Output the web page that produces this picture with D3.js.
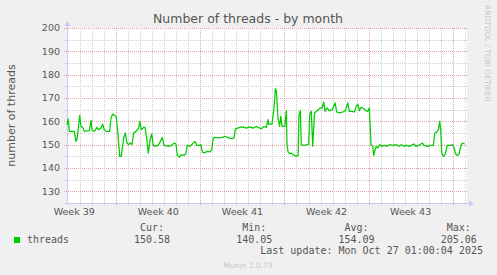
<!DOCTYPE html>
<html>
<head>
<meta charset="utf-8">
<script src="https://cdn.jsdelivr.net/npm/d3@7"></script>
<style>
    body { margin: 0; background: #f0f0f0; }
    svg { display: block; font-family: "DejaVu Sans", sans-serif; }
    .mono { font-family: "DejaVu Sans Mono", monospace; font-size: 10px; fill: #555; }
</style>
</head>
<body>
<div id="chart-container"></div>
<script>
// days since window start (2025-09-24 21:36 UTC)
const days = [
    0, 0.11, 0.19, 0.61, 0.75, 0.83, 1.06, 1.17, 1.31, 1.44, 1.86, 2.00, 2.08, 2.22, 2.36, 2.47, 2.64, 2.83, 2.97, 3.10,
    3.25, 3.55, 3.66, 3.80, 3.97, 4.10, 4.24, 4.39, 4.52, 4.72, 4.85, 4.99, 5.14, 5.27, 5.41, 5.55, 5.74, 5.97, 6.05, 6.18,
    6.38, 6.49, 6.63, 6.77, 6.91, 7.05, 7.18, 7.32, 7.60, 7.93, 8.07, 8.43, 8.71, 8.93, 9.07, 9.18, 9.35, 9.55, 9.74, 9.88,
    10.01, 10.24, 10.43, 10.65, 10.80, 10.99, 11.15, 11.26, 11.43, 11.63, 11.90, 12.04, 12.18, 12.32, 12.59, 12.93, 13.15, 13.43, 13.73, 13.90,
    14.01, 14.38, 14.65, 14.92, 15.21, 15.48, 15.76, 15.90, 16.17, 16.40, 16.59, 16.73, 16.79, 17.06, 17.23, 17.34, 17.42, 17.56, 17.70, 17.79,
    17.90, 18.12, 18.26, 18.31, 18.40, 18.54, 18.67, 18.81, 19.09, 19.23, 19.31, 19.42, 19.50, 19.73, 20.00, 20.12, 20.20, 20.33, 20.45, 20.60,
    20.92, 21.08, 21.23, 21.37, 21.48, 21.64, 21.83, 22.06, 22.31, 22.45, 22.67, 22.95, 23.17, 23.37, 23.50, 23.70, 23.92, 24.06, 24.20, 24.33,
    24.47, 24.69, 24.88, 25.03, 25.16, 25.24, 25.30, 25.45, 25.53, 25.72, 25.86, 26.05, 26.19, 26.41, 26.64, 26.86, 27.11, 27.38, 27.63, 27.83,
    28.05, 28.28, 28.47, 28.66, 28.88, 29.02, 29.30, 29.57, 29.72, 29.99, 30.27, 30.49, 30.61, 30.77, 30.91, 31.02, 31.11, 31.19, 31.32, 31.46,
    31.65, 31.94, 32.07, 32.21, 32.35, 32.49, 32.63, 32.77, 32.90, 33.10
];
const threads = [
    158.5, 161, 155.7, 155.7, 151.4, 152, 162.5, 157.8, 157.4, 155.7, 156, 160.4, 156.4, 155.7, 156.1, 157.4, 156.4, 157.1, 158.8, 156.4,
    155.7, 155.7, 161.4, 163.1, 162.5, 162.1, 154.3, 145, 145, 152.9, 155, 150.7, 150, 150.7, 150, 155, 155.7, 157.1, 160, 156.4,
    157.4, 157.4, 152.9, 146.4, 152, 154.6, 149.7, 149.3, 149.7, 153.1, 149.7, 149.3, 149.7, 150.7, 150.3, 145.4, 144.7, 145.7, 145.4, 146.1,
    149.7, 149.3, 150.3, 151.4, 149.7, 149.7, 150, 146.9, 146.4, 147.1, 146.9, 147.9, 152.9, 153.1, 152.9, 153.1, 153.6, 152.9, 152.6, 152.9,
    156.8, 157.4, 157.6, 157.1, 157.6, 157.1, 157.8, 157.4, 156.8, 157.8, 157.4, 160.7, 158.8, 158.8, 165.7, 174, 173.1, 161.4, 157.8, 162.1,
    157.8, 157.8, 164.6, 150, 146.9, 146.1, 146.4, 145.7, 145, 145.4, 162.9, 164.6, 150, 149.7, 150, 150.3, 162.9, 164.3, 149.3, 163.6,
    165, 165.7, 165.7, 168.3, 164.3, 165.7, 164.6, 165, 167.9, 164, 163.6, 164, 164.6, 167.9, 164.3, 164.3, 164, 166.4, 167.4, 164.6,
    166, 165.4, 164.6, 164.3, 165.7, 157.1, 150, 149.3, 145.4, 149.3, 148.6, 150, 149.3, 149.7, 149.3, 150, 149.7, 150, 149.3, 150,
    149.3, 149.7, 149.3, 149.7, 150.3, 149.3, 149.7, 150.7, 149.7, 149.3, 149.7, 149.7, 155, 155.4, 156.4, 160, 155.7, 146.4, 145, 145.7,
    149.7, 149.7, 150, 148.6, 146, 145.4, 146, 149.3, 150.7, 150.3
];

const weekStarts = ["2025-09-22", "2025-09-29", "2025-10-06", "2025-10-13", "2025-10-20"];
const weekLabels = ["Week 39", "Week 40", "Week 41", "Week 42", "Week 43"];
const yTicks = [130, 140, 150, 160, 170, 180, 190, 200];

const legendHeaders = ["Cur:", "Min:", "Avg:", "Max:"];
const legendValues = ["150.58", "140.05", "154.09", "205.06"];

const svgWidth = 497;
const svgHeight = 275;
const margin = { top: 28, left: 67 };
const plotW = 400, plotH = 175;

const startTime = Date.UTC(2025, 8, 24, 21, 36);
const endTime = startTime + 33.29 * 864e5;

const svg = d3.select("#chart-container")
    .append("svg")
    .attr("width", svgWidth)
    .attr("height", svgHeight);

const x = d3.scaleUtc()
    .domain([new Date(startTime), new Date(endTime)])
    .range([margin.left, margin.left + plotW]);

const y = d3.scaleLinear()
    .domain([125, 200])
    .range([margin.top + plotH, margin.top]);

// plot background
svg.append("rect")
    .attr("x", margin.left)
    .attr("y", margin.top)
    .attr("width", plotW)
    .attr("height", plotH)
    .attr("fill", "#fff");

// horizontal grid, minor every 5, major every 10
d3.range(130, 201, 5).forEach(v => {
    const major = v % 10 === 0;
    svg.append("line")
        .attr("x1", margin.left - 3).attr("x2", margin.left + plotW + 1)
        .attr("y1", Math.round(y(v)) + 0.5).attr("y2", Math.round(y(v)) + 0.5)
        .attr("stroke", major ? "#eba0a0" : "#cfcfcf")
        .attr("stroke-dasharray", "1,1");
});

// vertical grid, daily minor, weekly (monday) major
d3.utcDay.range(x.domain()[0], x.domain()[1]).forEach(d => {
    const major = d.getUTCDay() === 1;
    const px = Math.round(x(d)) + 0.5;
    if (px < margin.left + 2) return;
    svg.append("line")
        .attr("x1", px).attr("x2", px)
        .attr("y1", margin.top).attr("y2", margin.top + plotH + 3)
        .attr("stroke", major ? "#eba0a0" : "#cfcfcf")
        .attr("stroke-dasharray", "1,1");
});

// axes lines with arrows
const axisColor = "#c8c8f4";
svg.append("line")
    .attr("x1", margin.left + 0.5).attr("x2", margin.left + 0.5)
    .attr("y1", margin.top - 2).attr("y2", margin.top + plotH + 2)
    .attr("stroke", axisColor);
svg.append("line")
    .attr("x1", margin.left - 2).attr("x2", margin.left + plotW + 3)
    .attr("y1", margin.top + plotH + 0.5).attr("y2", margin.top + plotH + 0.5)
    .attr("stroke", axisColor);
svg.append("path")
    .attr("d", `M${margin.left + 0.5},${margin.top - 7} l-3,5 l6,0 z`)
    .attr("fill", axisColor);
svg.append("path")
    .attr("d", `M${margin.left + plotW + 7},${margin.top + plotH + 0.5} l-5,-3 l0,6 z`)
    .attr("fill", axisColor);

// y tick labels
svg.selectAll("text.ytick")
    .data(yTicks)
    .enter()
    .append("text")
    .attr("class", "ytick")
    .attr("x", margin.left - 7)
    .attr("y", d => y(d))
    .attr("dy", "0.36em")
    .attr("text-anchor", "end")
    .attr("font-size", "9.5px")
    .attr("fill", "#555")
    .text(d => d);

// week labels, centred in each week
svg.selectAll("text.week")
    .data(weekStarts)
    .enter()
    .append("text")
    .attr("class", "week")
    .attr("x", d => x(new Date(Date.parse(d + "T00:00:00Z") + 3.5 * 864e5)))
    .attr("y", 215)
    .attr("text-anchor", "middle")
    .attr("font-size", "9.5px")
    .attr("fill", "#555")
    .text((d, i) => weekLabels[i]);

// data line
const line = d3.line()
    .x((d, i) => x(new Date(startTime + days[i] * 864e5)))
    .y(d => y(d));

svg.append("path")
    .datum(threads)
    .attr("fill", "none")
    .attr("stroke", "#00cc00")
    .attr("stroke-width", 1.25)
    .attr("stroke-linejoin", "round")
    .attr("d", line);

// title and labels
svg.append("text")
    .attr("x", 248)
    .attr("y", 23)
    .attr("text-anchor", "middle")
    .attr("font-size", "12.5px")
    .attr("fill", "#555")
    .text("Number of threads - by month");

svg.append("text")
    .attr("transform", `translate(15, ${margin.top + plotH / 2}) rotate(-90)`)
    .attr("text-anchor", "middle")
    .attr("font-size", "11px")
    .attr("fill", "#555")
    .text("number of threads");

svg.append("text")
    .attr("transform", "translate(485, 5) rotate(90)")
    .attr("font-size", "7.5px")
    .attr("fill", "#c8c8c8")
    .text("RRDTOOL / TOBI OETIKER");

// legend
svg.append("rect")
    .attr("x", 14).attr("y", 237)
    .attr("width", 6).attr("height", 6)
    .attr("fill", "#00cc00");

svg.append("text")
    .attr("class", "mono")
    .attr("x", 27)
    .attr("y", 243)
    .text("threads");

legendValues.forEach((v, i) => {
    const right = 170 + i * 102.3;
    svg.append("text")
        .attr("class", "mono")
        .attr("x", right - 6)
        .attr("y", 231)
        .attr("text-anchor", "end")
        .text(legendHeaders[i]);
    svg.append("text")
        .attr("class", "mono")
        .attr("x", right)
        .attr("y", 243)
        .attr("text-anchor", "end")
        .text(v);
});

svg.append("text")
    .attr("class", "mono")
    .attr("x", 483)
    .attr("y", 254)
    .attr("text-anchor", "end")
    .text("Last update: Mon Oct 27 01:00:04 2025");

svg.append("text")
    .attr("x", 248)
    .attr("y", 268)
    .attr("text-anchor", "middle")
    .attr("font-size", "7.5px")
    .attr("fill", "#c8c8c8")
    .text("Munin 2.0.73");
</script>
</body>
</html>
